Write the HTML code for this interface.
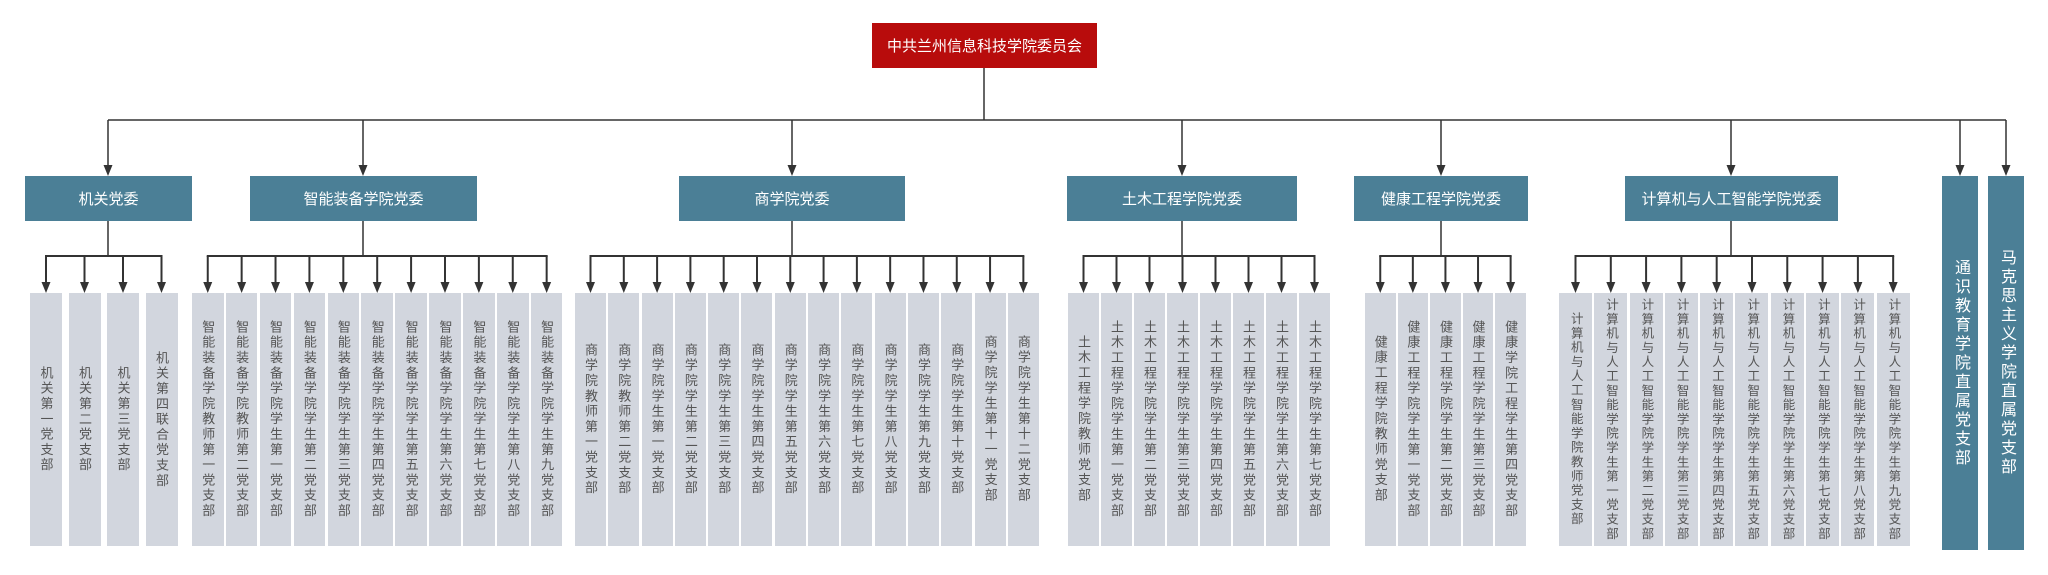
<!DOCTYPE html>
<html><head><meta charset="utf-8">
<style>
*{margin:0;padding:0;box-sizing:border-box}
body{width:2048px;height:575px;background:#fff;position:relative;overflow:hidden;font-family:"Liberation Sans","Noto Sans CJK SC",sans-serif}
.root{position:absolute;left:872px;top:23px;width:225px;height:45px;background:#b80c0c;color:#fff;font-size:15px;display:flex;align-items:center;justify-content:center}
.c{position:absolute;top:176px;height:45px;background:#4b7f96;color:#fff;font-size:15px;display:flex;align-items:center;justify-content:center}
.v{position:absolute;top:176px;height:374px;width:36px;background:#4b7f96;color:#fff;font-size:16px;display:flex;align-items:center;justify-content:center}
.v span{writing-mode:vertical-rl;letter-spacing:3px;white-space:nowrap}
.g{position:absolute;top:293px;height:253px;display:flex}
.g div{height:253px;background:#d2d6de;color:#555;font-size:13px;display:flex;align-items:center;justify-content:center;flex:none}
.g div span{writing-mode:vertical-rl;letter-spacing:2.3px;line-height:1;white-space:nowrap}
#g5 div span{font-size:12.5px;letter-spacing:1.8px}
svg{position:absolute;left:0;top:0}
</style></head><body>
<svg id="s" width="2048" height="575"></svg>
<div class="root">中共兰州信息科技学院委员会</div>
<div class="c" style="left:25px;width:167px">机关党委</div>
<div class="c" style="left:250px;width:227px">智能装备学院党委</div>
<div class="c" style="left:679px;width:226px">商学院党委</div>
<div class="c" style="left:1067px;width:230px">土木工程学院党委</div>
<div class="c" style="left:1354px;width:174px">健康工程学院党委</div>
<div class="c" style="left:1625px;width:213px">计算机与人工智能学院党委</div>
<div class="v" style="left:1942px"><span>通识教育学院直属党支部</span></div>
<div class="v" style="left:1988px"><span>马克思主义学院直属党支部</span></div>

<div class="g" id="g0" style="left:30px;gap:6.5px" data-c="108">
<div style="width:32px"><span>机关第一党支部</span></div>
<div style="width:32px"><span>机关第二党支部</span></div>
<div style="width:32px"><span>机关第三党支部</span></div>
<div style="width:32px"><span>机关第四联合党支部</span></div>
</div>
<div class="g" id="g1" style="left:192px;gap:2.4px" data-c="363">
<div style="width:31.5px"><span>智能装备学院教师第一党支部</span></div>
<div style="width:31.5px"><span>智能装备学院教师第二党支部</span></div>
<div style="width:31.5px"><span>智能装备学院学生第一党支部</span></div>
<div style="width:31.5px"><span>智能装备学院学生第二党支部</span></div>
<div style="width:31.5px"><span>智能装备学院学生第三党支部</span></div>
<div style="width:31.5px"><span>智能装备学院学生第四党支部</span></div>
<div style="width:31.5px"><span>智能装备学院学生第五党支部</span></div>
<div style="width:31.5px"><span>智能装备学院学生第六党支部</span></div>
<div style="width:31.5px"><span>智能装备学院学生第七党支部</span></div>
<div style="width:31.5px"><span>智能装备学院学生第八党支部</span></div>
<div style="width:31.5px"><span>智能装备学院学生第九党支部</span></div>
</div>
<div class="g" id="g2" style="left:575px;gap:2.3px" data-c="792">
<div style="width:31px"><span>商学院教师第一党支部</span></div>
<div style="width:31px"><span>商学院教师第二党支部</span></div>
<div style="width:31px"><span>商学院学生第一党支部</span></div>
<div style="width:31px"><span>商学院学生第二党支部</span></div>
<div style="width:31px"><span>商学院学生第三党支部</span></div>
<div style="width:31px"><span>商学院学生第四党支部</span></div>
<div style="width:31px"><span>商学院学生第五党支部</span></div>
<div style="width:31px"><span>商学院学生第六党支部</span></div>
<div style="width:31px"><span>商学院学生第七党支部</span></div>
<div style="width:31px"><span>商学院学生第八党支部</span></div>
<div style="width:31px"><span>商学院学生第九党支部</span></div>
<div style="width:31px"><span>商学院学生第十党支部</span></div>
<div style="width:31px"><span>商学院学生第十一党支部</span></div>
<div style="width:31px"><span>商学院学生第十二党支部</span></div>
</div>
<div class="g" id="g3" style="left:1068px;gap:2px" data-c="1182">
<div style="width:31px"><span>土木工程学院教师党支部</span></div>
<div style="width:31px"><span>土木工程学院学生第一党支部</span></div>
<div style="width:31px"><span>土木工程学院学生第二党支部</span></div>
<div style="width:31px"><span>土木工程学院学生第三党支部</span></div>
<div style="width:31px"><span>土木工程学院学生第四党支部</span></div>
<div style="width:31px"><span>土木工程学院学生第五党支部</span></div>
<div style="width:31px"><span>土木工程学院学生第六党支部</span></div>
<div style="width:31px"><span>土木工程学院学生第七党支部</span></div>
</div>
<div class="g" id="g4" style="left:1365px;gap:2.1px" data-c="1441">
<div style="width:30.5px"><span>健康工程学院教师党支部</span></div>
<div style="width:30.5px"><span>健康工程学院学生第一党支部</span></div>
<div style="width:30.5px"><span>健康工程学院学生第二党支部</span></div>
<div style="width:30.5px"><span>健康工程学院学生第三党支部</span></div>
<div style="width:30.5px"><span>健康学院工程学生第四党支部</span></div>
</div>
<div class="g" id="g5" style="left:1559px;gap:2.3px" data-c="1731">
<div style="width:33px"><span>计算机与人工智能学院教师党支部</span></div>
<div style="width:33px"><span>计算机与人工智能学院学生第一党支部</span></div>
<div style="width:33px"><span>计算机与人工智能学院学生第二党支部</span></div>
<div style="width:33px"><span>计算机与人工智能学院学生第三党支部</span></div>
<div style="width:33px"><span>计算机与人工智能学院学生第四党支部</span></div>
<div style="width:33px"><span>计算机与人工智能学院学生第五党支部</span></div>
<div style="width:33px"><span>计算机与人工智能学院学生第六党支部</span></div>
<div style="width:33px"><span>计算机与人工智能学院学生第七党支部</span></div>
<div style="width:33px"><span>计算机与人工智能学院学生第八党支部</span></div>
<div style="width:33px"><span>计算机与人工智能学院学生第九党支部</span></div>
</div>
<script>
(function(){
var s=document.getElementById('s'),o='';
function L(x1,y1,x2,y2,w){o+='<line x1="'+x1+'" y1="'+y1+'" x2="'+x2+'" y2="'+y2+'" stroke="#333" stroke-width="'+w+'"/>';}
function A(x,y){o+='<polygon points="'+(x-4.5)+','+(y-11)+' '+(x+4.5)+','+(y-11)+' '+x+','+y+'" fill="#333"/>';}
var tops=[108,363,792,1182,1441,1731,1960,2006];
L(984,68,984,120,1.5);L(108,120,2006,120,1.5);
tops.forEach(function(x){L(x,120,x,170,1.5);A(x,176);});
for(var i=0;i<6;i++){
 var g=document.getElementById('g'+i),c=+g.dataset.c,xs=[];
 Array.prototype.forEach.call(g.children,function(d){var r=d.getBoundingClientRect();xs.push(r.left+r.width/2);});
 L(c,221,c,256,1.5);
 L(xs[0]-1,256,xs[xs.length-1]+1,256,2);
 xs.forEach(function(x){L(x,256,x,286,2);A(x,293);});
}
s.innerHTML=o;
})();
</script>
</body></html>
